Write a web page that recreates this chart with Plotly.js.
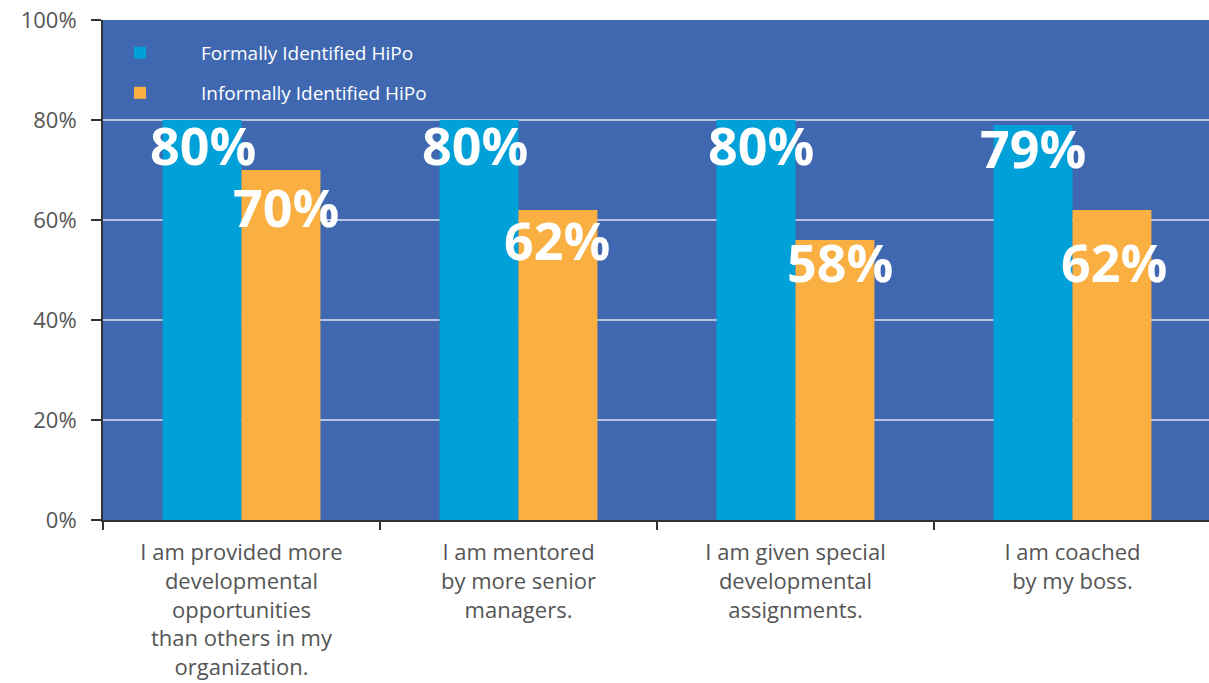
<!DOCTYPE html>
<html>
<head>
<meta charset="utf-8">
<script src="https://cdn.plot.ly/plotly-3.0.1.min.js"></script>
<style>html,body{margin:0;padding:0;background:#fff;}#chart{width:1209px;height:683px;}</style>
</head>
<body>
<div id="chart"></div>
<script>
// ---- data ----
const categories = [
  "I am provided more<br>developmental<br>opportunities<br>than others in my<br>organization.",
  "I am mentored<br>by more senior<br>managers.",
  "I am given special<br>developmental<br>assignments.",
  "I am coached<br>by my boss."
];
const formalName = "Formally Identified HiPo";
const informalName = "Informally Identified HiPo";
const formalValues = [80, 80, 80, 79];
const informalValues = [70, 62, 56, 62];
const formalLabels = ["80%", "80%", "80%", "79%"];
const informalLabels = ["70%", "62%", "58%", "62%"];
const yTickValues = [0, 20, 40, 60, 80, 100];
const yTickLabels = ["0%", "20%", "40%", "60%", "80%", "100%"];

// ---- style ----
const cyan = "#00A0D8";
const orange = "#F9AF41";
const plotBlue = "#4068B1";
const greyText = "#555555";
const labelDrop = [[24, 24, 24, 22], [36, 29, 21, 51]];
const labelNudge = [[1, -4, 5, 0], [5, -1, 5, 2]];

const traces = [
  {type: "bar", name: formalName, x: categories, y: formalValues,
   marker: {color: cyan}, hoverinfo: "skip", legend: "legend"},
  {type: "bar", name: informalName, x: categories, y: informalValues,
   marker: {color: orange}, hoverinfo: "skip", legend: "legend2"}
];

const annotations = [];
const halfBar = 39.4;
[[formalValues, formalLabels, -1], [informalValues, informalLabels, 1]].forEach(([vals, labs, side], s) => {
  vals.forEach((v, i) => {
    annotations.push({
      x: categories[i], y: v, xref: "x", yref: "y",
      text: labs[i], showarrow: false,
      xanchor: "center", yanchor: "middle",
      xshift: side * halfBar + labelNudge[s][i],
      yshift: -labelDrop[s][i],
      font: {family: "Open Sans", size: 52, color: "#ffffff", weight: 700}
    });
  });
});

const legendCommon = {
  x: -0.0217, xanchor: "left", yanchor: "middle",
  bgcolor: "rgba(0,0,0,0)", itemwidth: 112,
  font: {family: "Open Sans", size: 19, color: "#ffffff"}
};

const layout = {
  width: 1209, height: 683,
  margin: {l: 103, r: 0, t: 20, b: 163},
  paper_bgcolor: "#ffffff",
  plot_bgcolor: plotBlue,
  barmode: "group",
  bargap: 0.43,
  bargroupgap: 0,
  font: {family: "Open Sans", color: greyText},
  xaxis: {
    type: "category",
    range: [-0.5, 3.4928],
    tickson: "boundaries",
    ticks: "outside", ticklen: 8, tickwidth: 2, tickcolor: "#333",
    showline: true, linecolor: "#333", linewidth: 2,
    showgrid: false,
    ticklabelstandoff: 12,
    tickfont: {family: "Open Sans", size: 22, color: greyText},
    fixedrange: true
  },
  yaxis: {
    range: [0, 100],
    tickvals: yTickValues, ticktext: yTickLabels,
    ticks: "outside", ticklen: 10, tickwidth: 2, tickcolor: "#333",
    showline: true, linecolor: "#333", linewidth: 2,
    showgrid: true, gridcolor: "#B8C4E2", gridwidth: 2,
    zeroline: false,
    ticklabelstandoff: 10,
    tickfont: {family: "Open Sans", size: 22, color: greyText},
    fixedrange: true
  },
  legend: Object.assign({y: 0.934}, legendCommon),
  legend2: Object.assign({y: 0.854}, legendCommon),
  showlegend: true,
  annotations: annotations
};

Plotly.newPlot("chart", traces, layout, {displayModeBar: false, staticPlot: true});
</script>
</body>
</html>
